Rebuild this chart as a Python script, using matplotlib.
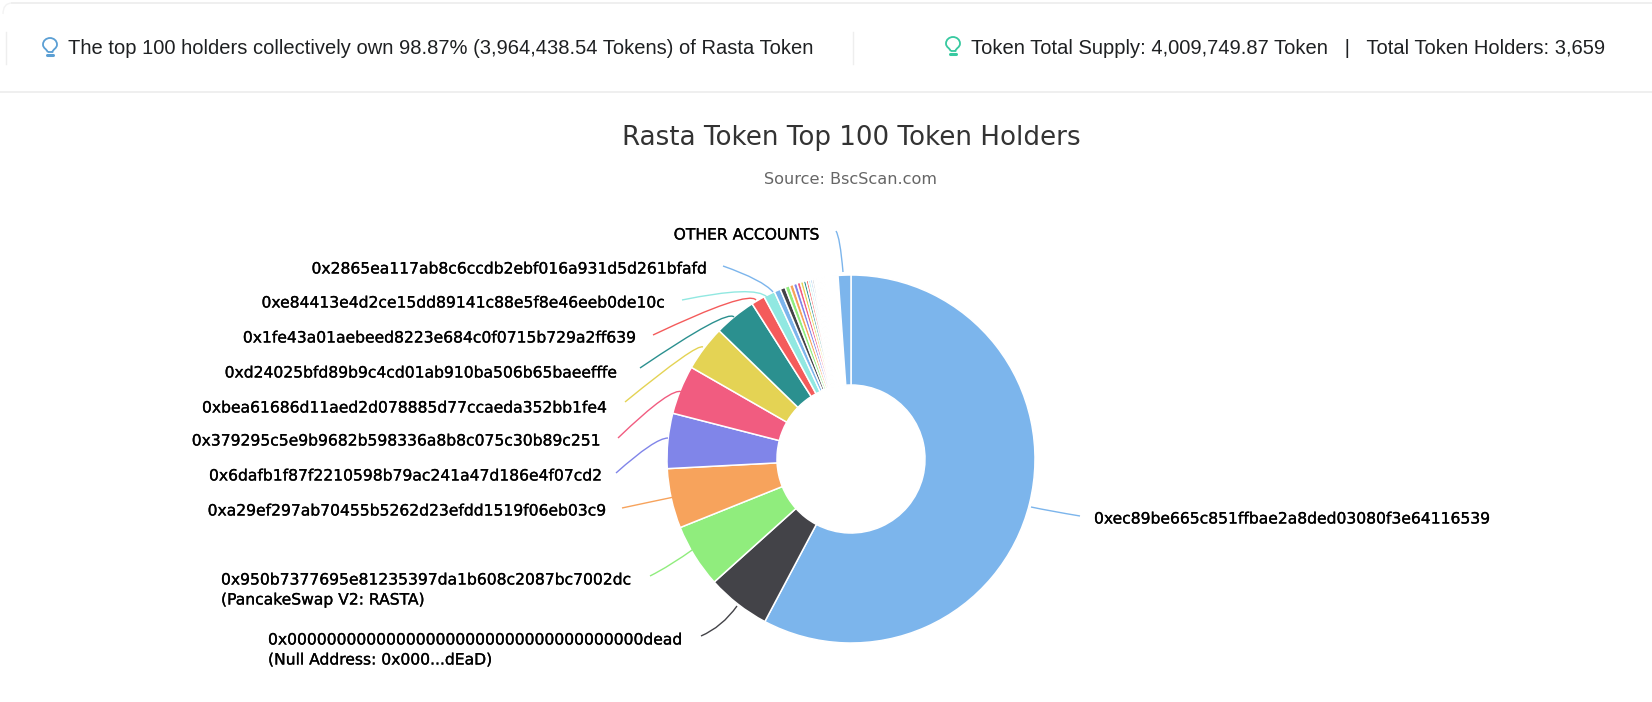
"""Rasta Token top 100 holders donut, BscScan style."""

import matplotlib

matplotlib.use("Agg")
from matplotlib import patheffects, pyplot as plt
from matplotlib.path import Path
from matplotlib.patches import PathPatch

WIDTH, HEIGHT = 1652, 702

PALETTE = ["#7cb5ec", "#434348", "#90ed7d", "#f7a35c", "#8085e9",
           "#f15c80", "#e4d354", "#2b908f", "#f45b5b", "#91e8e1"]

# percent of supply, clockwise from 12 o'clock
named_shares = [57.9, 5.6, 5.6, 5.25, 4.85, 4.3, 4.0, 3.7, 1.2, 1.0]
tail_shares = [0.55, 0.45, 0.40, 0.36, 0.33, 0.30, 0.27, 0.24, 0.21, 0.18,
               0.17, 0.15, 0.13, 0.12, 0.11, 0.10, 0.09, 0.08, 0.08, 0.07,
               0.07, 0.06, 0.06, 0.06, 0.05, 0.05, 0.05, 0.05, 0.04, 0.04,
               0.04, 0.04, 0.04, 0.03, 0.03, 0.03, 0.03, 0.03, 0.03, 0.03,
               0.03, 0.03, 0.02, 0.02, 0.02, 0.02, 0.02, 0.02, 0.02, 0.02,
               0.01, 0.01, 0.01, 0.01, 0.01, 0.01, 0.01, 0.01, 0.01, 0.01,
               0.005, 0.005, 0.005, 0.005, 0.005, 0.005, 0.005, 0.005, 0.005, 0.005,
               0.005, 0.005, 0.005, 0.005, 0.005, 0.005, 0.005, 0.005, 0.005, 0.005,
               0.005, 0.005, 0.005, 0.005, 0.005, 0.005, 0.005, 0.005, 0.005, 0.005]
other_share = [1.13]

TITLE = "Rasta Token Top 100 Token Holders"
SUBTITLE = "Source: BscScan.com"
HEADER_LEFT = "The top 100 holders collectively own 98.87% (3,964,438.54 Tokens) of Rasta Token"
HEADER_RIGHT = "Token Total Supply: 4,009,749.87 Token   |   Total Token Holders: 3,659"

# right aligned labels: text, right edge, y
left_labels = [
    ("OTHER ACCOUNTS", 819, 235),
    ("0x2865ea117ab8c6ccdb2ebf016a931d5d261bfafd", 705, 269),
    ("0xe84413e4d2ce15dd89141c88e5f8e46eeb0de10c", 663, 303),
    ("0x1fe43a01aebeed8223e684c0f0715b729a2ff639", 634, 338),
    ("0xd24025bfd89b9c4cd01ab910ba506b65baeefffe", 616, 373),
    ("0xbea61686d11aed2d078885d77ccaeda352bb1fe4", 605, 408),
    ("0x379295c5e9b9682b598336a8b8c075c30b89c251", 599, 441),
    ("0x6dafb1f87f2210598b79ac241a47d186e4f07cd2", 600, 476),
    ("0xa29ef297ab70455b5262d23efdd1519f06eb03c9", 605, 511),
]
# left aligned labels: text, left edge, y
other_labels = [
    ("0xec89be665c851ffbae2a8ded03080f3e64116539", 1094, 519),
    ("0x950b7377695e81235397da1b608c2087bc7002dc", 221, 580),
    ("(PancakeSwap V2: RASTA)", 221, 600),
    ("0x000000000000000000000000000000000000dead", 268, 640),
    ("(Null Address: 0x000...dEaD)", 268, 660),
]

# label connectors, pixel points from label end to slice
connectors = [
    ("#7cb5ec", [(843, 272), (840, 237), (836, 231)]),
    ("#7cb5ec", [(723, 266), (763, 280), (773, 292)]),
    ("#91e8e1", [(682, 300), (755, 285), (767, 297)]),
    ("#f45b5b", [(653, 335), (748, 290), (756, 300)]),
    ("#2b908f", [(640, 368), (727, 309), (734, 317)]),
    ("#e4d354", [(625, 402), (697, 343), (703, 347)]),
    ("#f15c80", [(618, 438), (672, 386), (682, 392)]),
    ("#8085e9", [(616, 473), (655, 438), (668, 438)]),
    ("#f7a35c", [(622, 508), (650, 502), (674, 497)]),
    ("#90ed7d", [(650, 576), (670, 566), (695, 548)]),
    ("#434348", [(701, 636), (722, 627), (737, 606)]),
    ("#7cb5ec", [(1080, 516), (1050, 511), (1031, 507)]),
]


def flip(y):
    return HEIGHT - y


def draw_bulb(ax, x, y, color):
    # pear outline, y is the top of the bulb
    pts = [(-2.5, 14), (-3, 11), (-7, 10.5), (-7, 6.5),
           (-7, 2.5), (-3.5, 0), (0, 0),
           (3.5, 0), (7, 2.5), (7, 6.5),
           (7, 10.5), (3, 11), (2.5, 14),
           (-2.5, 14)]
    codes = [Path.MOVETO] + [Path.CURVE4] * 12 + [Path.LINETO]
    verts = [(x + dx, flip(y + dy)) for dx, dy in pts]
    ax.add_patch(PathPatch(Path(verts, codes), fill=False, ec=color, lw=1.3))
    ax.plot([x - 3, x + 3], [flip(y + 17), flip(y + 17)], color=color, lw=2.2, solid_capstyle="round")


def draw_header(ax):
    line = "#ececec"
    ax.plot([12, WIDTH], [flip(3), flip(3)], color=line, lw=1.2)
    ax.plot([0, WIDTH], [flip(92), flip(92)], color=line, lw=1.2)
    corner = Path([(3, flip(14)), (3, flip(3)), (12, flip(3))], [Path.MOVETO, Path.CURVE3, Path.CURVE3])
    ax.add_patch(PathPatch(corner, fill=False, ec="#f3f3f3", lw=1))
    for x in (5.5, 853):
        ax.plot([x, x], [flip(32), flip(64)], color="#eeeeee", lw=1)
    draw_bulb(ax, 50, 38, "#5b9fd4")
    draw_bulb(ax, 953, 37, "#37c9a0")
    ax.text(68, flip(49), HEADER_LEFT, family="Liberation Sans", fontsize=14.5, color="#1e2022", va="center")
    ax.text(971, flip(49), HEADER_RIGHT, family="Liberation Sans", fontsize=14.5, color="#1e2022", va="center")


def main():
    fig = plt.figure(figsize=(WIDTH / 100, HEIGHT / 100), dpi=100)
    ax = fig.add_axes([0, 0, 1, 1])

    shares = named_shares + tail_shares + other_share
    colors = [PALETTE[i % len(PALETTE)] for i in range(len(shares) - 1)] + [PALETTE[0]]
    ax.pie(shares, colors=colors, center=(851, flip(459)), radius=184, startangle=90, counterclock=False,
           normalize=True, frame=True, wedgeprops={"width": 110, "edgecolor": "white", "linewidth": 1.1})

    ax.set_xlim(0, WIDTH)
    ax.set_ylim(0, HEIGHT)
    ax.set_aspect("equal")
    ax.axis("off")

    draw_header(ax)

    ax.text(851, flip(138), TITLE, fontsize=18.8, color="#333333", ha="center", va="center")
    ax.text(851, flip(180), SUBTITLE, fontsize=11.6, color="#666666", ha="center", va="center")

    for color, pts in connectors:
        verts = [(x, flip(y)) for x, y in pts]
        path = Path(verts, [Path.MOVETO, Path.CURVE3, Path.CURVE3])
        ax.add_patch(PathPatch(path, fill=False, ec=color, lw=1))

    # labels carry a thin outline in the original, it reads slightly heavier
    heavy = [patheffects.withStroke(linewidth=0.2, foreground="black")]
    for text, x, y in left_labels:
        ax.text(x, flip(y), text, fontsize=11.2, color="black", ha="right", va="center", path_effects=heavy)
    for text, x, y in other_labels:
        ax.text(x, flip(y), text, fontsize=11.2, color="black", ha="left", va="center", path_effects=heavy)

    fig.savefig("out.png", dpi=100, facecolor="white")
    plt.close(fig)


if __name__ == "__main__":
    main()
